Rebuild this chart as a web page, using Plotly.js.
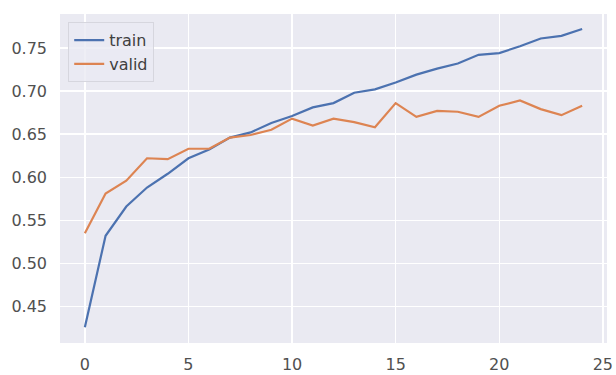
<!DOCTYPE html>
<html><head><meta charset="utf-8">
<script src="https://cdn.plot.ly/plotly-3.0.1.min.js"></script>
<style>html,body{margin:0;padding:0;background:#fff;}#chart{width:616px;height:375px;}</style>
</head><body><div id="chart"></div>
<script>
const epochs = [0,1,2,3,4,5,6,7,8,9,10,11,12,13,14,15,16,17,18,19,20,21,22,23,24];
const train = [0.426,0.532,0.566,0.588,0.604,0.622,0.632,0.646,0.652,0.663,0.671,0.681,0.686,0.698,0.702,0.710,0.719,0.726,0.732,0.742,0.744,0.752,0.761,0.764,0.772];
const valid = [0.535,0.581,0.596,0.622,0.621,0.633,0.633,0.646,0.649,0.655,0.668,0.660,0.668,0.664,0.658,0.686,0.670,0.677,0.676,0.670,0.683,0.689,0.679,0.672,0.683];
const xTicks = [0,5,10,15,20,25];
const yTicks = [0.45,0.50,0.55,0.60,0.65,0.70,0.75];

const traces = [
  {x: epochs, y: train, name: 'train', mode: 'lines', line: {color: '#4c72b0', width: 2.2}},
  {x: epochs, y: valid, name: 'valid', mode: 'lines', line: {color: '#dd8452', width: 2.2}}
];
const layout = {
  width: 616, height: 375,
  margin: {l: 60, r: 9, t: 14, b: 32},
  paper_bgcolor: '#ffffff', plot_bgcolor: '#eaeaf2',
  font: {family: 'DejaVu Sans, sans-serif', size: 16, color: '#505050'},
  showlegend: true,
  legend: {x: 0.015, y: 0.975, xanchor: 'left', yanchor: 'top', bgcolor: 'rgba(234,234,242,0.8)', bordercolor: '#d6d6de', borderwidth: 1, font: {size: 16, color: '#404040'}, itemwidth: 30},
  xaxis: {range: [-1.2, 25.2], tickvals: xTicks, ticktext: xTicks.map(String), showgrid: true, gridcolor: '#ffffff', gridwidth: 1.3, zeroline: false, showline: false, ticks: '', ticklabelstandoff: 10},
  yaxis: {range: [0.4076, 0.7894], tickvals: yTicks, ticktext: yTicks.map(v => v.toFixed(2)), showgrid: true, gridcolor: '#ffffff', gridwidth: 1.3, zeroline: false, showline: false, ticks: '', ticklabelstandoff: 12}
};
Plotly.newPlot('chart', traces, layout, {displayModeBar: false, staticPlot: true});
</script>
</body></html>
